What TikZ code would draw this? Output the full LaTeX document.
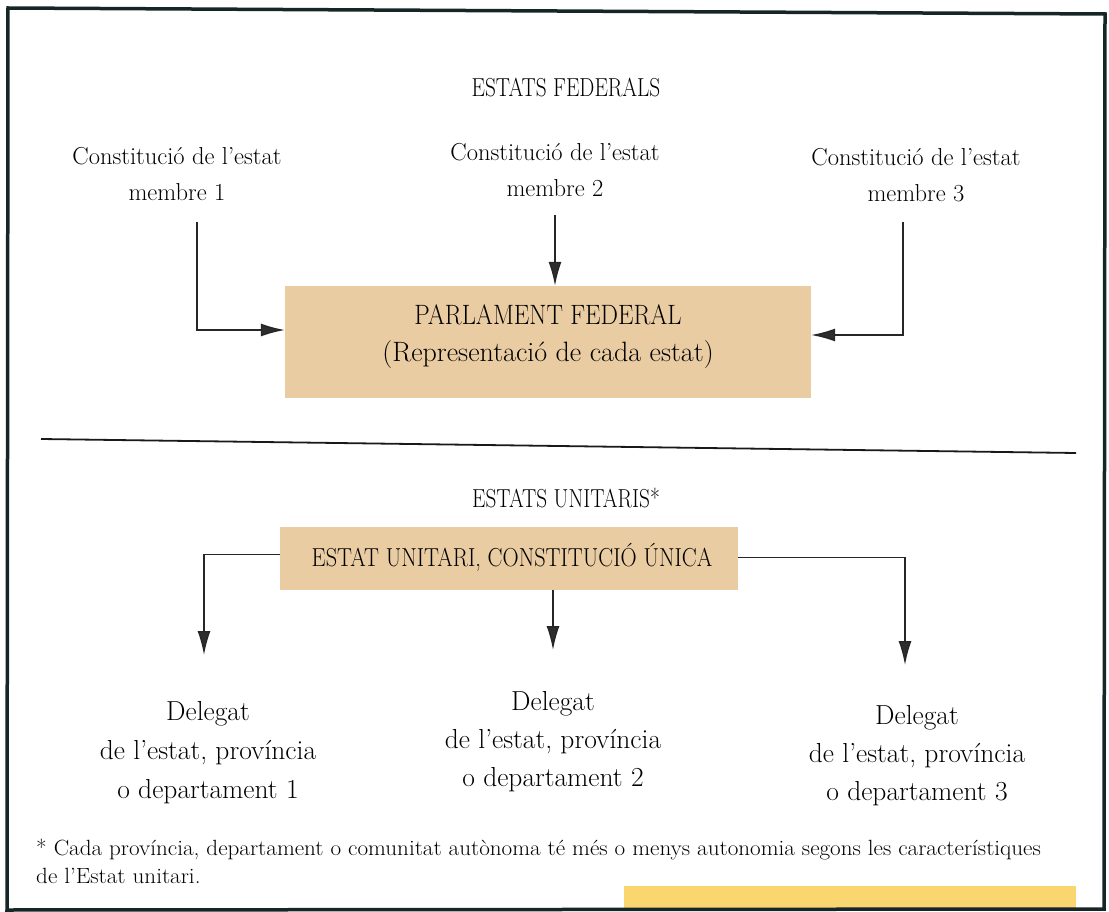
\documentclass[tikz,border=0pt]{standalone}
\usetikzlibrary{arrows.meta,calc}
\definecolor{boxfill}{RGB}{234,204,163}
\definecolor{barfill}{RGB}{249,214,112}
\definecolor{framecol}{RGB}{22,38,38}
\definecolor{tipcol}{RGB}{45,45,45}
\newcommand{\mycond}[2]{\scalebox{#1}[1]{#2}}
\begin{document}
\begin{tikzpicture}[x=1pt,y=-1pt,
  lbl/.style={inner sep=0pt,align=center,text=black},
  colorbox/.style={fill=boxfill,inner sep=0pt,draw=none},
  arr/.style={draw=black!85,line width=1.4pt,-{Latex[length=24pt,width=13pt,fill=tipcol]}},
  rule/.style={draw=black!90,line width=1.8pt}]
\useasboundingbox (0,0) rectangle (1109,912);
% yellow strip and frame
\fill[barfill] (624,886) rectangle (1076,909);
\draw[framecol,line width=3.5pt] (8,8) -- (1105,14) -- (1104,909) -- (7,910) -- cycle;

% ---- federal part
\node[lbl] (hf) at (566,88) {\mycond{0.82}{\fontsize{26}{26}\selectfont ESTATS FEDERALS}};
\node[lbl,font=\fontsize{24.5}{36}\selectfont] (c1) at (177,174.5) {Constitució de l'estat\\membre 1};
\node[lbl,font=\fontsize{24.5}{36}\selectfont] (c2) at (555,170) {Constitució de l'estat\\membre 2};
\node[lbl,font=\fontsize{24.5}{36}\selectfont] (c3) at (916,175) {Constitució de l'estat\\membre 3};

\node[colorbox,minimum width=526pt,minimum height=112pt] (pf) at (548,342) {};
\node[lbl,font=\fontsize{28}{37}\selectfont] (pft) at (548,336.5) {\mycond{0.88}{PARLAMENT FEDERAL}\\(Representació de cada estat)};

\coordinate (a1) at (197,222);
\coordinate (a2) at (555,215);
\coordinate (a3) at (903,222);
\draw[arr] (a1) |- ($(pf.west)+(0,-12)$);
\draw[arr] (a2) -- (a2 |- pf.north);
\draw[arr] (a3) |- ($(pf.east)+(0,-7)$);

% divider
\coordinate (hl) at (41,439);
\coordinate (hr) at (1076,453);
\draw[rule] (hl) -- (hr);

% ---- unitary part
\node[lbl] (hu) at (566,498) {\mycond{0.82}{\fontsize{26}{26}\selectfont ESTATS UNITARIS*}};
\node[colorbox,minimum width=458pt,minimum height=63pt] (eu) at (509,558.5) {};
\node[lbl] (eut) at (512,557) {\mycond{0.86}{\fontsize{26}{26}\selectfont ESTAT UNITARI, CONSTITUCIÓ ÚNICA}};

\node[lbl,font=\fontsize{27.5}{39}\selectfont] (d1) at (208,753) {Delegat\\de l'estat, província\\o departament 1};
\node[lbl,font=\fontsize{27.5}{38}\selectfont] (d2) at (553,742) {Delegat\\de l'estat, província\\o departament 2};
\node[lbl,font=\fontsize{27.5}{38}\selectfont] (d3) at (917,755.5) {Delegat\\de l'estat, província\\o departament 3};

\coordinate (b1) at (204,655);
\coordinate (b2) at (553,650);
\coordinate (b3) at (905,665);
\draw[arr] ($(eu.west)+(0,-4)$) -| (b1);
\draw[arr] (b2 |- eu.south) -- (b2);
\draw[arr] ($(eu.east)+(0,-1)$) -| (b3);

% footnote
\node[lbl,anchor=west] (fn) at (36,864) {\mycond{1.05}{\fontsize{22}{28}\selectfont\begin{tabular}{@{}l@{}}* Cada província, departament o comunitat autònoma té més o menys autonomia segons les característiques\\de l'Estat unitari.\end{tabular}}};
\end{tikzpicture}
\end{document}
